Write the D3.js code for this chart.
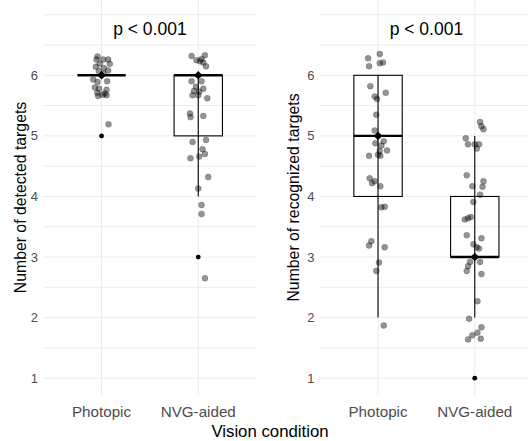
<!DOCTYPE html>
<html>
<head>
<meta charset="utf-8">
<script src="https://cdn.jsdelivr.net/npm/d3@7"></script>
<style>
  html, body { margin: 0; padding: 0; background: #fff; }
  text { font-family: "Liberation Sans", Arial, sans-serif; }
</style>
</head>
<body>
<svg id="chart" width="528" height="441"></svg>
<script>
// ---------- data ----------
const categories = ["Photopic", "NVG-aided"];
const yTicks = [1, 2, 3, 4, 5, 6];
const gridValues = [1, 1.5, 2, 2.5, 3, 3.5, 4, 4.5, 5, 5.5, 6, 6.5, 7];
const panelTitles = ["p < 0.001", "p < 0.001"];
const yTitles = ["Number of detected targets", "Number of recognized targets"];
const xTitle = "Vision condition";

// box statistics: [lowerWhisker, q1, median, q3, upperWhisker]
const detectedBox = [[6, 6, 6, 6, 6], [4, 5, 6, 6, 6]];
const recognizedBox = [[2, 4, 5, 6, 6], [2, 3, 3, 4, 5]];
const detectedOutliers = [[5], [3]];
const recognizedOutliers = [[], [1]];

// jittered observations: [x jitter (category units), y value]
const detectedPhotopic = [
  [-0.041,6.31],[-0.052,6.26],[0.017,6.26],[0.068,6.26],[-0.018,6.19],[0.086,6.19],
  [-0.059,6.14],[0.024,6.12],[0.068,6.08],[-0.028,6.07],[0.021,6.03],[-0.086,5.93],
  [-0.041,5.89],[0.058,5.90],[-0.069,5.80],[-0.025,5.78],[0.052,5.76],[-0.044,5.71],
  [0.034,5.70],[-0.035,5.66],[0.052,5.67],[0.010,5.68],[0.072,5.19]
];
const detectedNVG = [
  [-0.069,6.32],[0.069,6.33],[0.034,6.27],[-0.018,6.25],[0.018,6.23],[0.052,6.21],
  [0.080,6.15],[-0.069,5.90],[0.034,5.90],[-0.024,5.81],[0.052,5.78],[-0.044,5.74],
  [0.010,5.73],[-0.059,5.67],[0,5.67],[0.093,5.62],[-0.086,5.37],[-0.080,5.31],
  [0.052,5.33],[-0.059,4.90],[0.080,4.93],[0.044,4.78],[0.069,4.70],[-0.080,4.63],
  [0.010,4.66],[0.103,4.32],[0,4.13],[0.034,3.86],[0.034,3.71],[0.069,2.65]
];
const recognizedPhotopic = [
  [-0.103,6.28],[0.018,6.35],[-0.093,6.15],[0.018,6.20],[0.052,6.21],[-0.080,5.82],
  [0.080,5.71],[-0.034,5.65],[-0.010,5.61],[-0.018,5.35],[-0.034,5.09],[-0.028,4.88],
  [0.034,4.84],[0.018,4.75],[0,4.69],[0.093,4.76],[0.024,4.67],[-0.093,4.67],
  [0.059,4.91],[-0.086,4.30],[-0.034,4.25],[0.024,4.17],[-0.062,4.22],[0.034,3.82],
  [0.069,3.83],[-0.069,3.26],[-0.093,3.19],[0.069,3.16],[0.010,2.91],[-0.018,2.77],
  [0.059,1.87]
];
const recognizedNVG = [
  [0.055,5.23],[0.069,5.16],[0.090,5.11],[-0.093,4.96],[-0.069,4.86],[0,4.86],
  [0.044,4.86],[0.021,4.79],[-0.083,4.35],[0.090,4.25],[0.080,4.16],[-0.025,4.17],
  [0.055,4.03],[-0.014,3.91],[-0.103,3.62],[-0.069,3.64],[-0.041,3.66],[-0.083,3.36],
  [0.069,3.31],[-0.014,3.21],[0.021,3.16],[0.044,3.14],[-0.049,2.92],[0.055,2.92],
  [-0.069,2.85],[-0.083,2.77],[0.069,2.72],[0.028,2.27],[-0.059,1.98],[0.069,1.84],
  [0.028,1.75],[-0.025,1.71],[-0.069,1.64],[0.062,1.65]
];

// ---------- drawing ----------
const svg = d3.select("#chart");
svg.append("rect").attr("width", 528).attr("height", 441).attr("fill", "#fff");

const panelTop = 0, panelBottom = 395;
const y = d3.scaleLinear().domain([1, 6]).range([378.2, 75.3]);

const panels = [
  { x0: 43.5, x1: 256.3, box: detectedBox, out: detectedOutliers,
    pts: [detectedPhotopic, detectedNVG], title: panelTitles[0], ytitle: yTitles[0], ytx: 20 },
  { x0: 320.0, x1: 532.8, box: recognizedBox, out: recognizedOutliers,
    pts: [recognizedPhotopic, recognizedNVG], title: panelTitles[1], ytitle: yTitles[1], ytx: 293 }
];

panels.forEach(p => {
  const x = d3.scalePoint().domain(categories).range([p.x0, p.x1]).padding(0.6);
  const step = x.step();
  const g = svg.append("g");

  // grid
  g.selectAll(".hg").data(gridValues).join("line")
    .attr("x1", p.x0).attr("x2", p.x1)
    .attr("y1", d => y(d)).attr("y2", d => y(d))
    .attr("stroke", "#ebebeb").attr("stroke-width", 1);
  g.selectAll(".vg").data(categories).join("line")
    .attr("x1", d => x(d)).attr("x2", d => x(d))
    .attr("y1", panelTop).attr("y2", panelBottom)
    .attr("stroke", "#ebebeb").attr("stroke-width", 1);

  // y tick labels
  g.selectAll(".yt").data(yTicks).join("text")
    .attr("x", p.x0 - 5.5).attr("y", d => y(d))
    .attr("text-anchor", "end").attr("dominant-baseline", "central")
    .attr("font-size", 13).attr("fill", "#4d4d4d").text(d => d);

  // x tick labels
  g.selectAll(".xt").data(categories).join("text")
    .attr("x", d => x(d)).attr("y", 417)
    .attr("text-anchor", "middle")
    .attr("font-size", 15.2).attr("fill", "#4d4d4d").text(d => d);

  // y title
  g.append("text")
    .attr("transform", `translate(${p.ytx},${(panelTop + panelBottom) / 2}) rotate(-90)`)
    .attr("text-anchor", "middle").attr("dominant-baseline", "central")
    .attr("font-size", 15.8).attr("fill", "#000").text(p.ytitle);

  // panel title
  g.append("text")
    .attr("x", (p.x0 + p.x1) / 2).attr("y", 35)
    .attr("text-anchor", "middle")
    .attr("font-size", 17.5).attr("fill", "#000").text(p.title);

  // jitter points
  categories.forEach((c, i) => {
    g.selectAll(null).data(p.pts[i]).join("circle")
      .attr("cx", d => x(c) + d[0] * step)
      .attr("cy", d => y(d[1]))
      .attr("r", 3)
      .attr("fill", "#000").attr("fill-opacity", 0.42)
      .attr("stroke", "#000").attr("stroke-opacity", 0.3).attr("stroke-width", 0.6);
  });

  // boxes
  const bw = step * 0.5;
  categories.forEach((c, i) => {
    const [lo, q1, med, q3, hi] = p.box[i];
    const cx = x(c);
    if (hi > lo) {
      g.append("line").attr("x1", cx).attr("x2", cx)
        .attr("y1", y(lo)).attr("y2", y(hi))
        .attr("stroke", "#000").attr("stroke-width", 1.1);
    }
    g.append("rect")
      .attr("x", cx - bw / 2).attr("width", bw)
      .attr("y", y(q3)).attr("height", y(q1) - y(q3))
      .attr("fill", "none").attr("stroke", "#000").attr("stroke-width", 1.1);
    g.append("line")
      .attr("x1", cx - bw / 2).attr("x2", cx + bw / 2)
      .attr("y1", y(med)).attr("y2", y(med))
      .attr("stroke", "#000").attr("stroke-width", 2.4);
    // outliers
    g.selectAll(null).data(p.out[i]).join("circle")
      .attr("cx", cx).attr("cy", d => y(d)).attr("r", 2.4).attr("fill", "#000");
    // median marker (diamond)
    const my = y(med), h = 4.3;
    g.append("path")
      .attr("d", `M${cx},${my - h}L${cx + h},${my}L${cx},${my + h}L${cx - h},${my}Z`)
      .attr("fill", "#000");
  });
});

// x title
svg.append("text")
  .attr("x", 270).attr("y", 437)
  .attr("text-anchor", "middle")
  .attr("font-size", 16.8).attr("fill", "#000").text(xTitle);
</script>
</body>
</html>
